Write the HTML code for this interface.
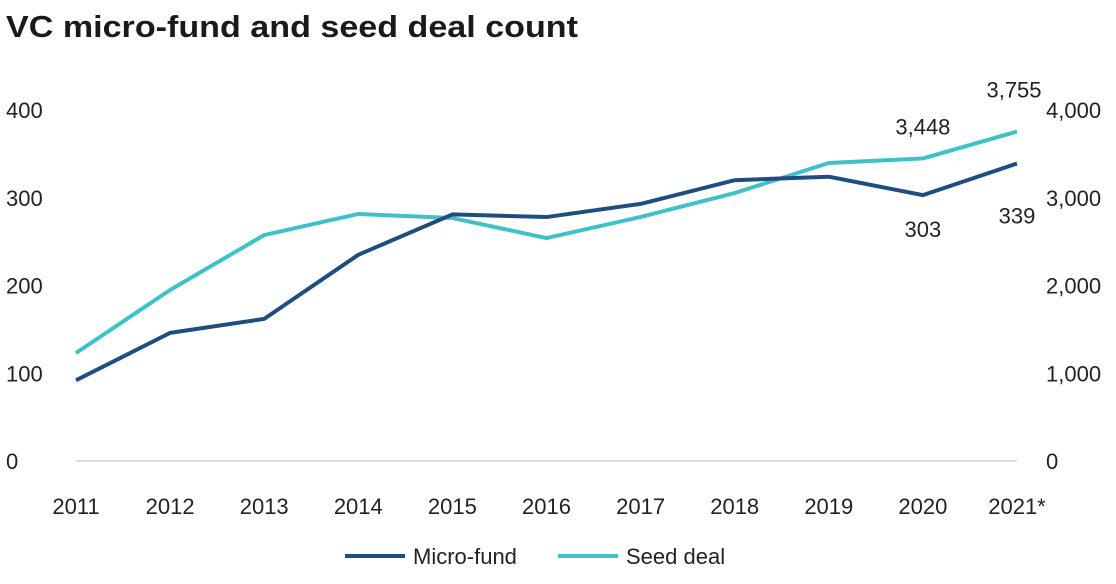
<!DOCTYPE html>
<html><head><meta charset="utf-8"><style>
body{margin:0;background:#fff;width:1116px;height:584px;overflow:hidden}
svg{display:block}
.t{font-family:"Liberation Sans Narrow","Liberation Sans",sans-serif;font-size:22px;fill:#222}
</style></head><body>
<svg id="chart" width="1116" height="584">
<text x="6" y="37" font-family="Liberation Sans, sans-serif" font-weight="bold" font-size="31" textLength="572" lengthAdjust="spacingAndGlyphs" fill="#1a1a1a">VC micro-fund and seed deal count</text>
<g id="plot"></g>
</svg>
<script>
const years=["2011","2012","2013","2014","2015","2016","2017","2018","2019","2020","2021*"];
const microFund=[92,146,162,235,281,278,293,320,324,303,339];
const seedDeal=[1231,1949,2575,2815,2769,2541,2781,3054,3396,3448,3755];
const leftTicks=[0,100,200,300,400];
const rightTicks=["0","1,000","2,000","3,000","4,000"];
const ns="http://www.w3.org/2000/svg";
const g=document.getElementById('plot');
const x0=76,x1=1017,y0=461,yTop=110;
const xs=i=>x0+(x1-x0)*i/(years.length-1);
const yl=v=>y0-(y0-yTop)*v/400;
const yr=v=>y0-(y0-yTop)*v/4000;
function el(t,a){const e=document.createElementNS(ns,t);for(const k in a)e.setAttribute(k,a[k]);g.appendChild(e);return e;}
const axis=el('line',{x1:x0,x2:x1,y1:y0,y2:y0,stroke:'#bbb','stroke-width':1});


leftTicks.forEach((v,i)=>{
 const t=el('text',{x:6,y:yl(v)+8,class:'t'});t.textContent=v;
 
 
 const r=el('text',{x:1046,y:yl(v)+8,class:'t'});r.textContent=rightTicks[i];
 
 
});
years.forEach((y,i)=>{
 const t=el('text',{x:xs(i),y:514,class:'t','text-anchor':'middle'});t.textContent=y;
 
 
});
const sp=el('polyline',{points:seedDeal.map((v,i)=>xs(i)+','+yr(v)).join(' '),fill:'none',stroke:'#3ec1c9','stroke-width':4,'stroke-linejoin':'round'});


const mp=el('polyline',{points:microFund.map((v,i)=>xs(i)+','+yl(v)).join(' '),fill:'none',stroke:'#1f4e7e','stroke-width':4,'stroke-linejoin':'round'});


const n=years.length;
const labs=[[xs(n-2),yr(seedDeal[n-2])-24,seedDeal[n-2].toLocaleString('en-US'),'seed-label-2020'],
[xs(n-1)-3,yr(seedDeal[n-1])-34,seedDeal[n-1].toLocaleString('en-US'),'seed-label-2021'],
[xs(n-2),yl(microFund[n-2])+42,microFund[n-2],'micro-label-2020'],
[xs(n-1),yl(microFund[n-1])+60,microFund[n-1],'micro-label-2021']];
labs.forEach(l=>{const t=el('text',{x:l[0],y:l[1],class:'t','text-anchor':'middle'});t.textContent=l[2];
 
 });
const l1=el('line',{x1:345,x2:405,y1:556,y2:556,stroke:'#1f4e7e','stroke-width':4});


const t1=el('text',{x:413,y:564,class:'t'});t1.textContent='Micro-fund';


const l2=el('line',{x1:558,x2:618,y1:556,y2:556,stroke:'#3ec1c9','stroke-width':4});


const t2=el('text',{x:626,y:564,class:'t'});t2.textContent='Seed deal';


</script>
</body></html>
